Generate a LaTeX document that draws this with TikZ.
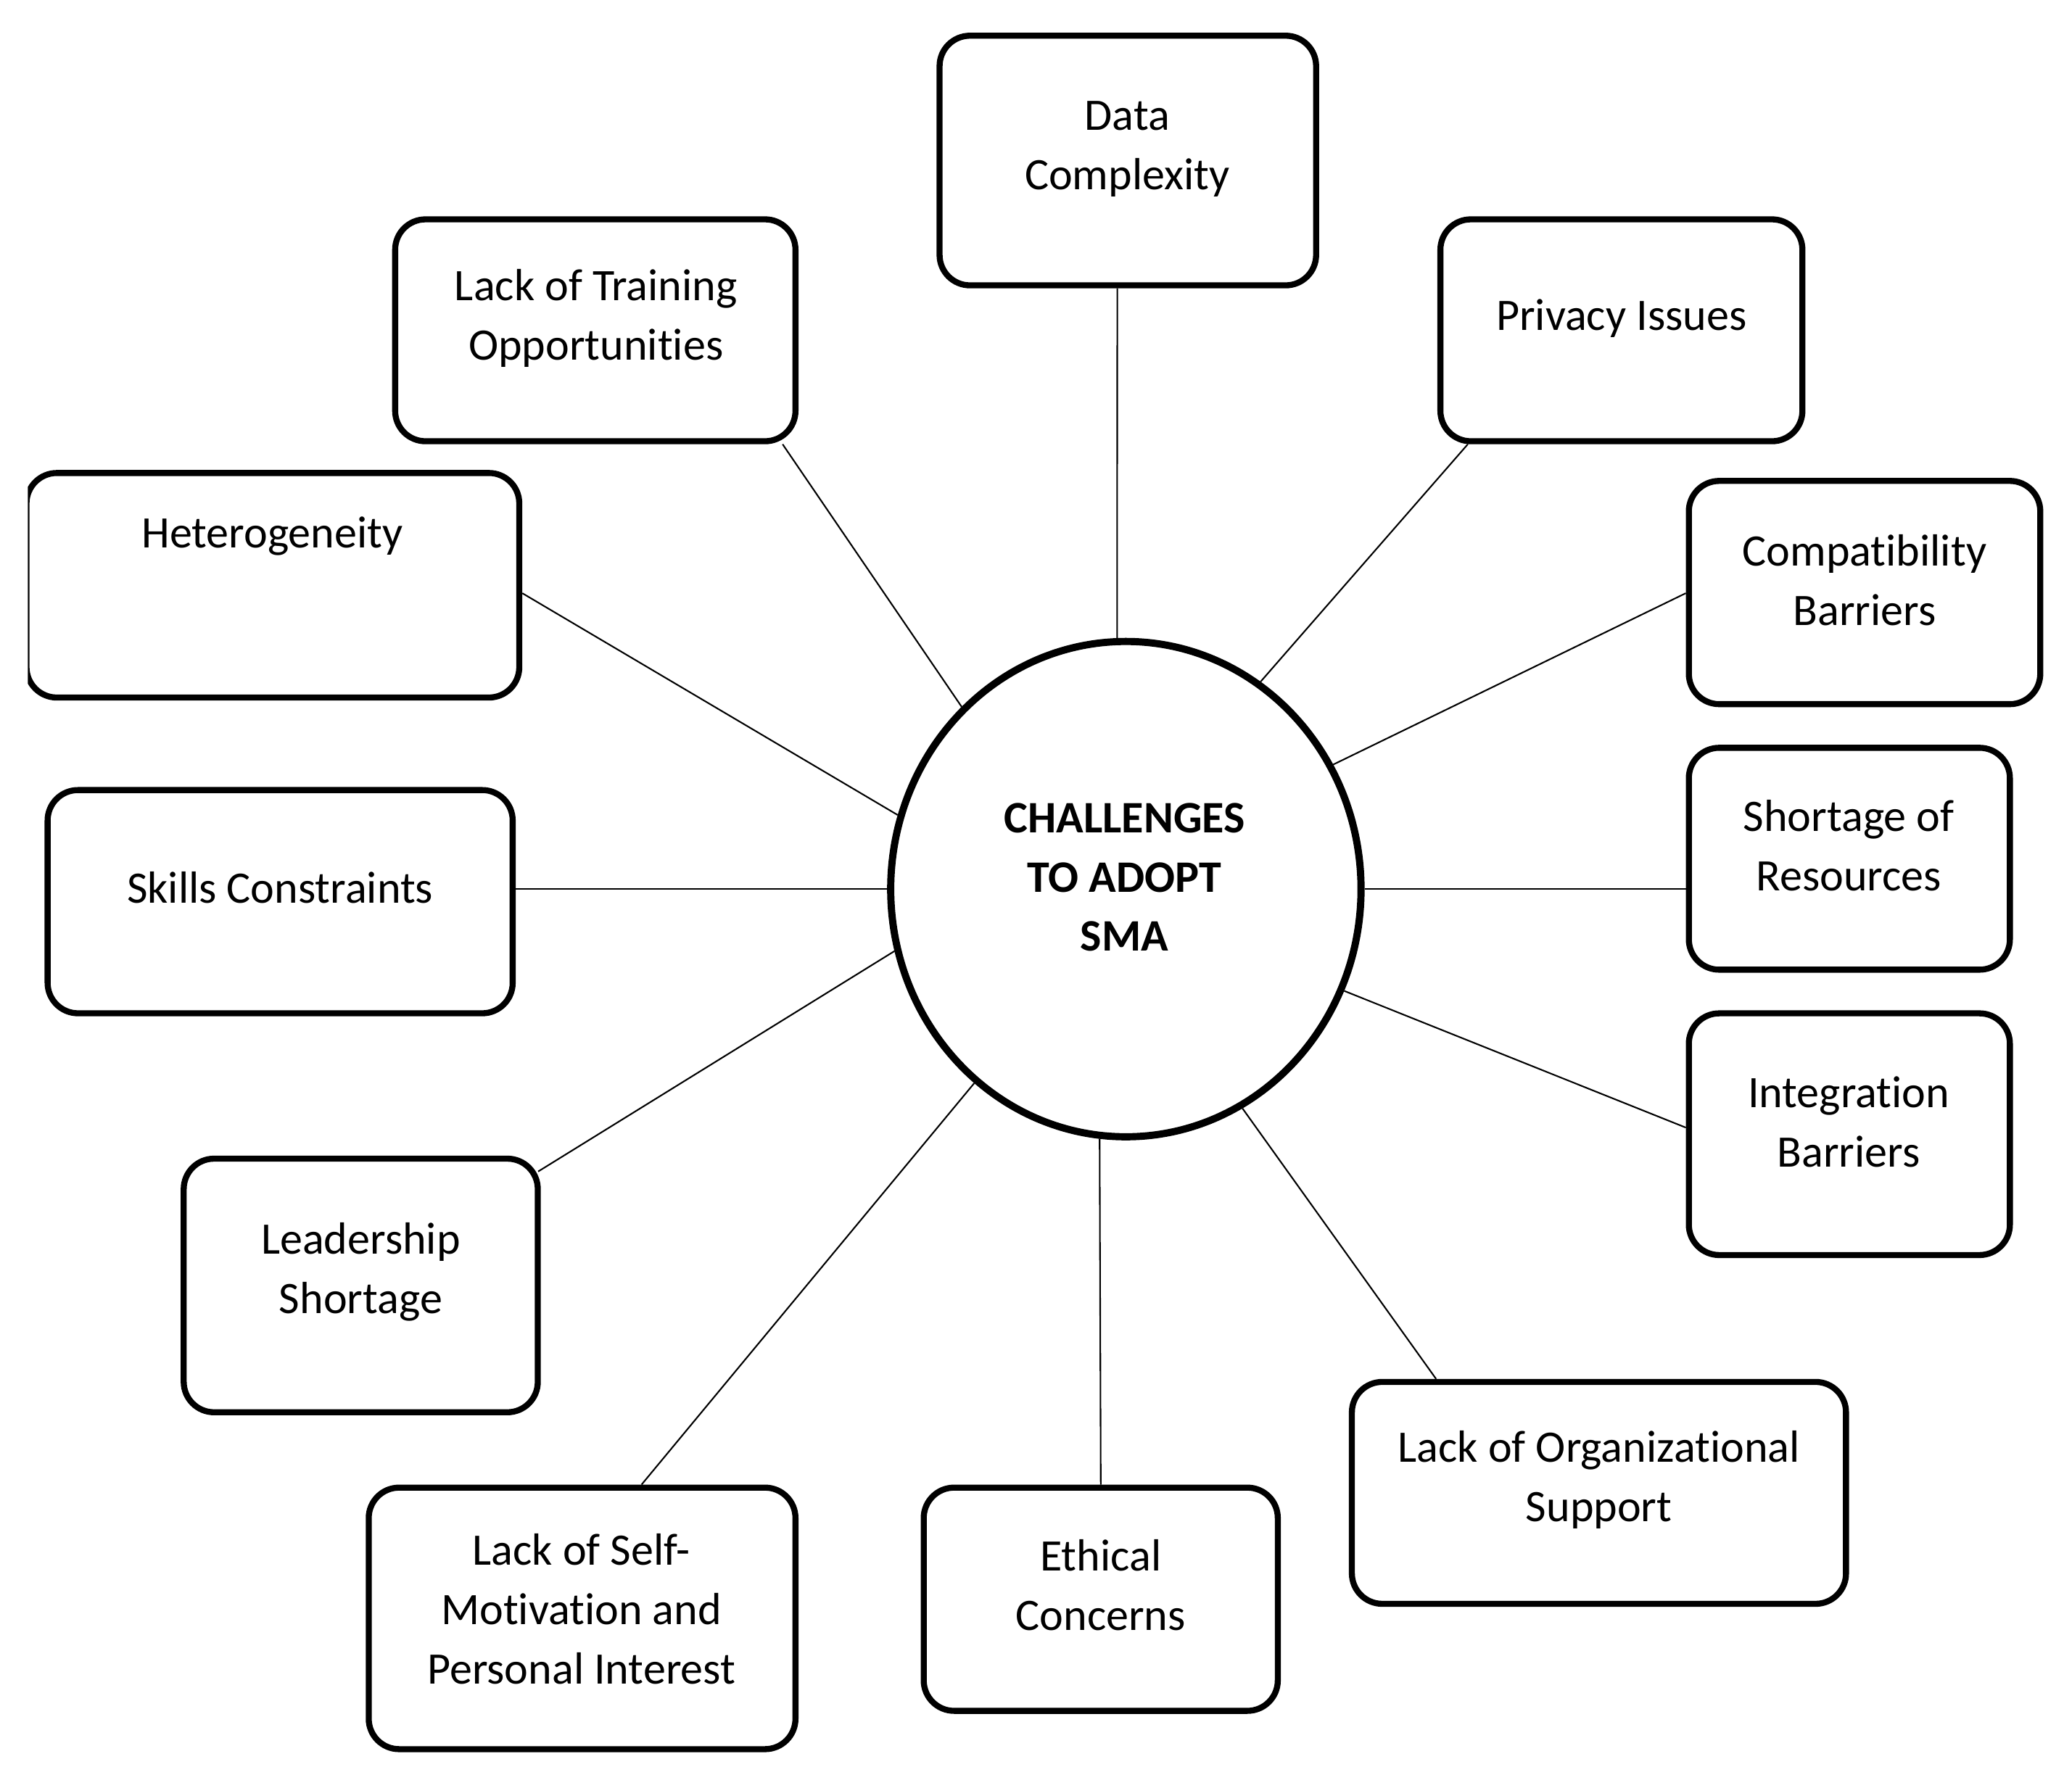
\documentclass[tikz,border=0pt]{standalone}
\usepackage{fontspec}
\setmainfont{Carlito}[Ligatures=NoCommon]
\usetikzlibrary{calc,shapes.geometric}
\begin{document}
\begin{tikzpicture}[x=0.02cm,y=-0.02cm,
  box/.style={draw, line width=2.6pt, rounded corners=0.46cm, inner sep=0pt},
  hub/.style={draw, ellipse, line width=3.1pt, minimum width=7.12cm, minimum height=7.5cm, inner sep=0pt},
  lbl/.style={align=center, font=\fontsize{19.4pt}{25.6pt}\selectfont, inner sep=0pt},
  conn/.style={line width=0.65pt}]
\useasboundingbox (0,0) rectangle (1568,1353);
\fill[white] (0,0) rectangle (1568,1353);

% hub
\node[hub] (c) at (852,673) {};
\node[lbl, font=\fontsize{19.4pt}{25.6pt}\selectfont\bfseries] (ct) at (851,664) {CHALLENGES\\TO ADOPT\\SMA};

% boxes
\node[box, minimum width=5.70cm, minimum height=3.78cm] (dc) at (853.5,121.5) {};
\node[box, minimum width=5.48cm, minimum height=3.36cm] (pi) at (1227,250) {};
\node[box, minimum width=6.06cm, minimum height=3.36cm] (tr) at (450.5,250) {};
\begin{scope}
\clip (21,0) rectangle (1568,1353);
\node[box, minimum width=7.46cm, minimum height=3.40cm] (he) at (206.5,443) {};
\end{scope}
\node[box, minimum width=5.32cm, minimum height=3.38cm] (cb) at (1411,448.5) {};
\node[box, minimum width=7.04cm, minimum height=3.38cm] (sk) at (212,682.5) {};
\node[box, minimum width=4.86cm, minimum height=3.36cm] (sr) at (1399.5,650) {};
\node[box, minimum width=5.36cm, minimum height=3.84cm] (ls) at (273,973) {};
\node[box, minimum width=4.86cm, minimum height=3.66cm] (ib) at (1399.5,858.5) {};
\node[box, minimum width=6.46cm, minimum height=3.96cm] (sm) at (440.5,1225) {};
\node[box, minimum width=5.36cm, minimum height=3.38cm] (ec) at (833,1210.5) {};
\node[box, minimum width=7.48cm, minimum height=3.36cm] (os) at (1210,1130) {};

% labels
\node[lbl] (dct) at (853,113) {Data\\Complexity};
\node[lbl] (pit) at (1227,241) {Privacy Issues};
\node[lbl] (trt) at (451,241) {Lack of Training\\Opportunities};
\node[lbl] (het) at (206,406) {Heterogeneity};
\node[lbl] (cbt) at (1411,439) {Compatibility\\Barriers};
\node[lbl] (skt) at (212,672) {Skills Constraints};
\node[lbl] (srt) at (1399,640) {Shortage of\\Resources};
\node[lbl] (lst) at (273,963) {Leadership\\Shortage};
\node[lbl] (ibt) at (1399,849) {Integration\\Barriers};
\node[lbl] (smt) at (440,1218) {Lack of Self-\\Motivation and\\Personal Interest};
\node[lbl] (ect) at (833,1200) {Ethical\\Concerns};
\node[lbl] (ost) at (1210,1120) {Lack of Organizational\\Support};

% connectors
\draw[conn] ($(dc.south)+(-8,0)$) -- (c.92.1);
\draw[conn] ($(pi.south west)+(23,0)$) -- (c.57.4);
\draw[conn] ($(tr.south east)+(-12,0)$) -- (c.132.4);
\draw[conn] ($(he.east)+(0,6)$) -- (c.162.2);
\draw[conn] ($(cb.west)+(0,0.5)$) -- (c.31.6);
\draw[conn] (c.180) -- (c.180 -| sk.east);
\draw[conn] (c.0) -- (c.0 -| sr.west);
\draw[conn] ($(ls.north east)+(-2,12)$) -- (c.195.1);
\draw[conn] ($(ib.west)+(0,-5)$) -- (c.335.1);
\draw[conn] ($(sm.north)+(45,0)$) -- (c.232.6);
\draw[conn] (ec.north) -- (c.264.3);
\draw[conn] ($(os.north west)+(66,0)$) -- (c.298.9);
\end{tikzpicture}
\end{document}
